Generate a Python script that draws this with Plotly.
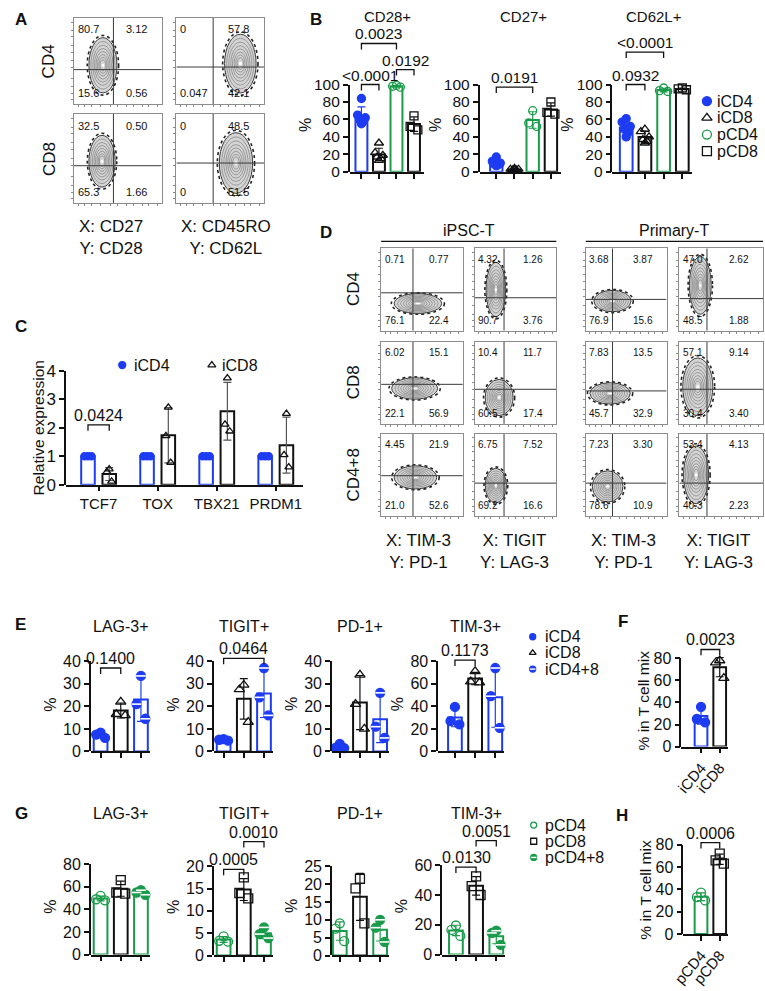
import numpy as np
import plotly.graph_objects as go

W, H = 765, 991
FONT = "Liberation Sans, Arial, Helvetica, sans-serif"
BLUE = "#1d3cf2"
GREEN = "#1a9b4b"
BLACK = "#111111"

# ======================= DATA =======================
# Panel A - flow quadrant percentages (UL, UR, LL, LR)
A_row_labels = ["CD4", "CD8"]
A_axis_labels = ["X: CD27<br>Y: CD28", "X: CD45RO<br>Y: CD62L"]
A_quadrants = [
    [["80.7", "3.12", "15.6", "0.56"], ["0", "57.8", "0.047", "42.1"]],
    [["32.5", "0.50", "65.3", "1.66"], ["0", "48.5", "0", "51.5"]],
]
A_gates = [[[0.45, 0.40], [0.42, 0.43]], [[0.45, 0.42], [0.42, 0.45]]]
A_blobs = [[[0.33, 0.45, 0.16, 0.32], [0.73, 0.47, 0.18, 0.34]],
           [[0.32, 0.47, 0.15, 0.29], [0.68, 0.45, 0.19, 0.34]]]

# Panel B
B_groups = ["iCD4", "iCD8", "pCD4", "pCD8"]
B_titles = ["CD28+", "CD27+", "CD62L+"]
B_CD28 = [[84, 65, 62, 60, 58, 55], [33, 22, 19, 17, 15, 13], [99, 98, 97], [64, 52, 48]]
B_CD27 = [[17, 12, 10, 9, 8, 7], [4, 3, 3, 2, 2, 2], [70, 56, 52], [80, 68, 66]]
B_CD62L = [[61, 57, 52, 49, 45, 40], [49, 46, 40, 37, 35, 33], [96, 93, 92], [96, 95, 94]]
B_pvals = [
    [(0, 1, 100, "<0.0001"), (2, 3, 117, "0.0192"), (0, 2, 147, "0.0023")],
    [(0, 2, 97, "0.0191")],
    [(0, 1, 100, "0.0932"), (0, 2, 137, "<0.0001")],
]

# Panel C
C_genes = ["TCF7", "TOX", "TBX21", "PRDM1"]
C_iCD4 = [[1, 1, 1], [1, 1, 1], [1, 1, 1], [1, 1, 1]]
C_iCD8 = [[0.55, 0.45, 0.12], [2.72, 1.72, 0.78], [3.75, 2.12, 1.88], [2.5, 1.05, 0.62]]
C_pval = (0, 2.1, "0.0424")

# Panel D
D_headers = ["iPSC-T", "Primary-T"]
D_row_labels = ["CD4", "CD8", "CD4+8"]
D_axis_labels = ["X: TIM-3<br>Y: PD-1", "X: TIGIT<br>Y: LAG-3",
                 "X: TIM-3<br>Y: PD-1", "X: TIGIT<br>Y: LAG-3"]
D_quadrants = [
    [["0.71", "0.77", "76.1", "22.4"], ["4.32", "1.26", "90.7", "3.76"],
     ["3.68", "3.87", "76.9", "15.6"], ["47.0", "2.62", "48.5", "1.88"]],
    [["6.02", "15.1", "22.1", "56.9"], ["10.4", "11.7", "60.5", "17.4"],
     ["7.83", "13.5", "45.7", "32.9"], ["57.1", "9.14", "30.4", "3.40"]],
    [["4.45", "21.9", "21.0", "52.6"], ["6.75", "7.52", "69.2", "16.6"],
     ["7.23", "3.30", "78.6", "10.9"], ["53.4", "4.13", "40.3", "2.23"]],
]
D_gate_x = [0.39, 0.36, 0.33, 0.33]
D_gate_y = [[0.46, 0.40, 0.38, 0.39], [0.48, 0.42, 0.40, 0.42], [0.49, 0.40, 0.40, 0.40]]
D_blobs = [
    [[0.45, 0.33, 0.29, 0.12], [0.26, 0.50, 0.12, 0.33], [0.33, 0.36, 0.23, 0.13], [0.25, 0.55, 0.13, 0.35]],
    [[0.41, 0.43, 0.28, 0.13], [0.30, 0.32, 0.17, 0.22], [0.30, 0.37, 0.25, 0.13], [0.22, 0.45, 0.18, 0.35]],
    [[0.42, 0.47, 0.26, 0.14], [0.26, 0.37, 0.13, 0.21], [0.27, 0.36, 0.19, 0.19], [0.20, 0.50, 0.15, 0.35]],
]

# Panel E / F
E_titles = ["LAG-3+", "TIGIT+", "PD-1+", "TIM-3+"]
E_groups = ["iCD4", "iCD8", "iCD4+8"]
E_LAG3 = [[8.3, 7.5, 6.0], [22, 16.5, 16], [33.5, 21, 14.5]]
E_TIGIT = [[5.5, 5.2, 4.8], [29.5, 27.5, 13], [37, 24, 16]]
E_PD1 = [[3.4, 1.6, 1.5], [34, 21, 10], [26, 11, 6]]
E_TIM3 = [[39.5, 27, 24], [71, 62, 61], [74, 49, 21]]
E_pvals = [[(0, 1, 37, "0.1400")], [(0, 2, 41.3, "0.0464")], [], [(0, 1, 81, "0.1173")]]
F_groups = ["iCD4", "iCD8"]
F_vals = [[36, 25, 22], [78, 76, 62]]
F_pvals = [(0, 1, 88, "0.0023")]

# Panel G / H
G_titles = ["LAG-3+", "TIGIT+", "PD-1+", "TIM-3+"]
G_groups = ["pCD4", "pCD8", "pCD4+8"]
G_LAG3 = [[52, 49, 48], [66, 55, 54], [57, 55, 53]]
G_TIGIT = [[4.3, 3.3, 3.1], [17.5, 14, 12.8], [6.3, 4.8, 3.9]]
G_PD1 = [[9, 7.5, 4], [21.5, 18.8, 9], [10, 7.8, 3.8]]
G_TIM3 = [[19.5, 16.5, 12.5], [52.5, 46, 40], [16, 14.5, 6.5]]
G_pvals = [[], [(0, 1, 19.3, "0.0005"), (1, 2, 25.5, "0.0010")], [],
           [(0, 1, 58.7, "0.0130"), (1, 2, 76.5, "0.0051")]]
H_groups = ["pCD4", "pCD8"]
H_vals = [[37, 33, 30], [72, 66, 63]]
H_pvals = [(0, 1, 81.8, "0.0006")]

# ======================= HELPERS =======================
traces, annotations, shapes, layout = [], [], [], {}
counter = [0]


def nid():
    counter[0] += 1
    return counter[0]


def akey(c, n):
    return f"{c}axis" if n == 1 else f"{c}axis{n}"


def aref(c, n):
    return c if n == 1 else f"{c}{n}"


def px(x):
    return x / W


def py(y):
    return 1 - y / H


def ann(x, y, text, size=15, xanchor="center", yanchor="middle", angle=0, color=BLACK):
    annotations.append(dict(x=px(x), y=py(y), xref="paper", yref="paper", text=text,
                            showarrow=False, xanchor=xanchor, yanchor=yanchor, textangle=angle,
                            font=dict(family=FONT, size=size, color=color)))


def letter(x, y, t):
    ann(x, y, f"<b>{t}</b>", size=17, xanchor="left")


def tickfont(sz):
    return dict(family=FONT, size=sz, color=BLACK)


def bar_panel(axis_px, c0_px, spacing, ncat, tail_px, ybot, ytt, tmax, ytop, tickvals,
              xtickvals=None, xticktext=None, xtickangle=0, tsize=16):
    xr = [-(c0_px - axis_px) / spacing, ncat - 1 + tail_px / spacing]
    x1 = c0_px + (ncat - 1) * spacing + tail_px
    ppu = (ybot - ytt) / tmax
    ymax = (ybot - ytop) / ppu
    n = nid()
    m = nid()
    if xtickvals is None:
        xtickvals = list(range(ncat))
    layout[akey("x", n)] = dict(domain=[px(axis_px), px(x1)], range=xr, anchor=aref("y", n),
                                showline=True, linecolor=BLACK, linewidth=1.5, ticks="outside",
                                ticklen=5, tickwidth=1.5, tickcolor=BLACK, tickvals=xtickvals,
                                ticktext=xticktext, showticklabels=xticktext is not None,
                                tickangle=xtickangle, tickfont=tickfont(15), showgrid=False,
                                zeroline=False, fixedrange=True)
    layout[akey("y", n)] = dict(domain=[py(ybot), py(ytop)], range=[0, ymax], anchor=aref("x", n),
                                visible=False, fixedrange=True)
    layout[akey("y", m)] = dict(domain=[py(ybot), py(ytt)], range=[0, tmax], anchor=aref("x", n),
                                showline=True, linecolor=BLACK, linewidth=1.5, ticks="outside",
                                ticklen=5, tickwidth=1.5, tickcolor=BLACK, tickvals=tickvals,
                                tickfont=tickfont(tsize), showgrid=False, zeroline=False,
                                fixedrange=True)
    traces.append(go.Scatter(x=[xr[0]], y=[0], xaxis=aref("x", n), yaxis=aref("y", m),
                             mode="markers", marker=dict(opacity=0), showlegend=False,
                             hoverinfo="skip"))
    return aref("x", n), aref("y", n), ppu


PATTERN = {3: [0.0, -1.0, 1.0], 6: [0.0, -1.0, 1.0, -0.5, 0.5, 0.0]}


def group(xa, ya, pos, pts, col, sym, bw, msize, spread, half=False, errcol=None, barline=2):
    pts = np.array(pts, dtype=float)
    mean = float(pts.mean())
    sd = float(pts.std(ddof=1))
    ec = errcol or col
    traces.append(go.Bar(x=[pos], y=[mean], width=bw, xaxis=xa, yaxis=ya,
                         marker=dict(color="white", line=dict(color=col, width=barline)),
                         error_y=dict(type="data", array=[sd], visible=sd > 0, color=ec,
                                      thickness=1.2, width=4),
                         showlegend=False, hoverinfo="skip"))
    xs = [pos + o * spread for o in PATTERN[len(pts)]]
    traces.append(go.Scatter(x=xs, y=pts, xaxis=xa, yaxis=ya, mode="markers", cliponaxis=False,
                             marker=dict(symbol=sym, size=msize, color=col,
                                         line=dict(color=col, width=1.3)),
                             showlegend=False, hoverinfo="skip"))
    if half:
        traces.append(go.Scatter(x=xs, y=pts, xaxis=xa, yaxis=ya, mode="markers", cliponaxis=False,
                                 marker=dict(symbol="line-ew", size=msize - 2, color="white",
                                             line=dict(color="white", width=1.6)),
                                 showlegend=False, hoverinfo="skip"))


def bracket(xa, ya, ppu, i, j, h, label, size=16):
    d = 6 / ppu
    traces.append(go.Scatter(x=[i, i, j, j], y=[h - d, h, h, h - d], xaxis=xa, yaxis=ya,
                             mode="lines", line=dict(color=BLACK, width=1.3),
                             showlegend=False, hoverinfo="skip"))
    annotations.append(dict(x=(i + j) / 2, y=h, xref=xa, yref=ya, text=label, showarrow=False,
                            xanchor="center", yanchor="bottom", yshift=-1,
                            font=dict(family=FONT, size=size, color=BLACK)))


def flow_plot(x0, x1, y0, y1, gx, gy, blob, quad, numsize):
    n = nid()
    tv = [0.05, 0.12, 0.2, 0.3, 0.42, 0.5, 0.6, 0.68, 0.78, 0.85, 0.95]
    common = dict(range=[0, 1], showline=True, mirror=True, linecolor="#8c8c8c", linewidth=1,
                  ticks="outside", ticklen=2, tickwidth=0.8, tickcolor="#888", tickvals=tv,
                  showticklabels=False, showgrid=False, zeroline=False, fixedrange=True)
    layout[akey("x", n)] = dict(domain=[px(x0), px(x1)], anchor=aref("y", n), **common)
    layout[akey("y", n)] = dict(domain=[py(y1), py(y0)], anchor=aref("x", n), **common)
    xa, ya = aref("x", n), aref("y", n)
    cx, cy, rx, ry = blob
    # sparse outlying events
    shapes.append(dict(type="circle", xref=xa, yref=ya, layer="below",
                       x0=cx - rx * 1.12, x1=cx + rx * 1.12, y0=cy - ry * 1.08, y1=cy + ry * 1.08,
                       line=dict(color="#222", width=1.6, dash="dot")))
    scales = [1.0, 0.86, 0.73, 0.61, 0.5, 0.39, 0.29, 0.2]
    for k, s in enumerate(scales):
        shapes.append(dict(type="circle", xref=xa, yref=ya, layer="below",
                           x0=cx - rx * s, x1=cx + rx * s, y0=cy - ry * s, y1=cy + ry * s,
                           fillcolor="#d4d4d4" if k == 0 else None,
                           line=dict(color="#3a3a3a" if k == 0 else "#707070",
                                     width=1.0 if k == 0 else 0.6)))
    shapes.append(dict(type="circle", xref=xa, yref=ya, layer="below",
                       x0=cx - rx * 0.1, x1=cx + rx * 0.1, y0=cy - ry * 0.06, y1=cy + ry * 0.06,
                       fillcolor="white", line=dict(width=0)))
    traces.append(go.Scatter(x=[gx, gx, None, 0, 1], y=[0, 1, None, gy, gy], xaxis=xa, yaxis=ya,
                             mode="lines", line=dict(color="#3a3a3a", width=1), showlegend=False,
                             hoverinfo="skip"))
    pos = [(0.02, 0.87, "left"), (0.71, 0.87, "center"), (0.02, 0.13, "left"), (0.71, 0.13, "center")]
    for (qx, qy, xan), t in zip(pos, quad):
        annotations.append(dict(x=qx, y=qy, xref=xa, yref=ya, text=t, showarrow=False,
                                xanchor=xan, yanchor="middle",
                                font=dict(family=FONT, size=numsize, color=BLACK)))


# ======================= PANEL A =======================
letter(1, 11, "A")
A_cols_px = [(63, 152), (167, 256)]
A_rows_px = [(9, 97), (107, 198)]
for r in range(2):
    for c in range(2):
        flow_plot(A_cols_px[c][0], A_cols_px[c][1], A_rows_px[r][0], A_rows_px[r][1],
                  A_gates[r][c][0], A_gates[r][c][1], A_blobs[r][c], A_quadrants[r][c], 11)
for r, lab in enumerate(A_row_labels):
    ann(38, (A_rows_px[r][0] + A_rows_px[r][1]) / 2, lab, size=17, angle=-90)
for c, lab in enumerate(A_axis_labels):
    ann(A_cols_px[c][0] + 3, 233, lab, size=17, xanchor="left")

# ======================= PANEL B =======================
letter(301, 11, "B")
B_geom = [(343, 355, 17.8), (475, 492, 18.5), (610, 624, 19.0)]
B_sets = [B_CD28, B_CD27, B_CD62L]
B_cols = [BLUE, BLACK, GREEN, BLACK]
B_syms = ["circle", "triangle-up-open", "circle-open", "square-open"]
for k in range(3):
    a, c0, s = B_geom[k]
    xa, ya, ppu = bar_panel(a, c0, s, 4, 10, 166, 77, 100, 14, [0, 20, 40, 60, 80, 100], tsize=15.5)
    for g in range(4):
        group(xa, ya, g, B_sets[k][g], B_cols[g], B_syms[g], 0.68, 8, 0.22)
    for (i, j, h, lab) in B_pvals[k]:
        bracket(xa, ya, ppu, i, j, h, lab, size=15.5)
    ann(c0 + 1.5 * s, 8, B_titles[k], size=15)
    ann(a - 45, 118, "%", size=16, angle=-90)

# ======================= PANEL C =======================
letter(1, 324, "C")
xa, ya, ppu = bar_panel(55, 88, 60, 4, 28, 485, 369, 4, 358, [0, 1, 2, 3, 4],
                        xtickvals=[0, 1, 2, 3], xticktext=C_genes, tsize=17)
for g in range(4):
    group(xa, ya, g - 0.18, C_iCD4[g], BLUE, "circle", 0.23, 7, 0.06)
    group(xa, ya, g + 0.18, C_iCD8[g], BLACK, "triangle-up-open", 0.23, 7, 0.04, errcol="#555555")
bracket(xa, ya, ppu, C_pval[0] - 0.18, C_pval[0] + 0.18, C_pval[1], C_pval[2])
ann(27, 427, "Relative expression", size=15.5, angle=-90)

# ======================= PANEL D =======================
letter(311, 228, "D")
D_cols_px = [(375, 458), (470, 553), (583, 665), (678, 763)]
D_rows_px = [(244, 328), (339, 423), (433, 517)]
for r in range(3):
    for c in range(4):
        flow_plot(D_cols_px[c][0], D_cols_px[c][1], D_rows_px[r][0], D_rows_px[r][1],
                  D_gate_x[c], D_gate_y[r][c], D_blobs[r][c], D_quadrants[r][c], 10)
for r, lab in enumerate(D_row_labels):
    ann(347, (D_rows_px[r][0] + D_rows_px[r][1]) / 2, lab, size=17, angle=-90)
for c, lab in enumerate(D_axis_labels):
    ann(D_cols_px[c][0] + 3, 553, lab, size=17, xanchor="left")
for h, lab in enumerate(D_headers):
    xl = D_cols_px[2 * h][0]
    xr_ = D_cols_px[2 * h + 1][1]
    ann((xl + xr_) / 2, 226, lab, size=16)
    shapes.append(dict(type="line", xref="paper", yref="paper", x0=px(xl), x1=px(xr_),
                       y0=py(237), y1=py(237), line=dict(color=BLACK, width=1.2)))

# ======================= PANEL E =======================
letter(1, 628, "E")
E_geom = [(80, 90), (205, 215), (325, 333), (433, 450)]
E_sets = [E_LAG3, E_TIGIT, E_PD1, E_TIM3]
E_tmax = [40, 40, 40, 80]
E_cols = [BLUE, BLACK, BLUE]
E_syms = ["circle", "triangle-up-open", "circle"]
for k in range(4):
    a, c0 = E_geom[k]
    tm = E_tmax[k]
    tv = list(range(0, tm + 1, tm // 4))
    xa, ya, ppu = bar_panel(a, c0, 20.5, 3, 9, 757, 665, tm, 642, tv)
    for g in range(3):
        group(xa, ya, g, E_sets[k][g], E_cols[g], E_syms[g], 0.68, 9, 0.22, half=(g == 2))
    for (i, j, h, lab) in E_pvals[k]:
        bracket(xa, ya, ppu, i, j, h, lab)
    ann(c0 + 20.5, 630, E_titles[k], size=16)
    ann(a - 41, 709, "%", size=16, angle=-90)

# F
letter(614, 624, "F")
xa, ya, ppu = bar_panel(680, 700, 19, 2, 8, 752, 662, 80, 645, [0, 20, 40, 60, 80],
                        xticktext=F_groups, xtickangle=-50)
group(xa, ya, 0, F_vals[0], BLUE, "circle", 0.68, 9, 0.22)
group(xa, ya, 1, F_vals[1], BLACK, "triangle-up-open", 0.68, 9, 0.22)
for (i, j, h, lab) in F_pvals:
    bracket(xa, ya, ppu, i, j, h, lab)
ann(642, 705, "% in T cell mix", size=15.5, angle=-90)

# ======================= PANEL G =======================
letter(1, 820, "G")
G_geom = [(80, 90, 964, 872, 80), (205, 215, 965, 874, 20), (325, 333, 965, 874, 25),
          (437, 451, 964, 873, 60)]
G_sets = [G_LAG3, G_TIGIT, G_PD1, G_TIM3]
G_cols = [GREEN, BLACK, GREEN]
G_syms = ["circle-open", "square-open", "circle"]
for k in range(4):
    a, c0, yb, yt, tm = G_geom[k]
    step = {80: 20, 20: 5, 25: 5, 60: 20}[tm]
    tv = list(range(0, tm + 1, step))
    xa, ya, ppu = bar_panel(a, c0, 20.5, 3, 9, yb, yt, tm, 826, tv)
    for g in range(3):
        group(xa, ya, g, G_sets[k][g], G_cols[g], G_syms[g], 0.68, 9, 0.22, half=(g == 2))
    for (i, j, h, lab) in G_pvals[k]:
        bracket(xa, ya, ppu, i, j, h, lab)
    ann(c0 + 20.5, 820, G_titles[k], size=16)
    ann(a - 41, 915, "%", size=16, angle=-90)

# H
letter(612, 822, "H")
xa, ya, ppu = bar_panel(682, 700, 19, 2, 8, 943, 852, 80, 838, [0, 20, 40, 60, 80],
                        xticktext=H_groups, xtickangle=-50)
group(xa, ya, 0, H_vals[0], GREEN, "circle-open", 0.68, 9, 0.22)
group(xa, ya, 1, H_vals[1], BLACK, "square-open", 0.68, 9, 0.22)
for (i, j, h, lab) in H_pvals:
    bracket(xa, ya, ppu, i, j, h, lab)
ann(644, 898, "% in T cell mix", size=15.5, angle=-90)

# ======================= LEGENDS (overlay in pixel space) =======================
ov = nid()
layout[akey("x", ov)] = dict(domain=[0, 1], range=[0, W], anchor=aref("y", ov), visible=False,
                             fixedrange=True)
layout[akey("y", ov)] = dict(domain=[0, 1], range=[H, 0], anchor=aref("x", ov), visible=False,
                             fixedrange=True)
OX, OY = aref("x", ov), aref("y", ov)


def leg(x, y, sym, col, size, text, tx, half=False, tsize=16):
    traces.append(go.Scatter(x=[x], y=[y], xaxis=OX, yaxis=OY, mode="markers", cliponaxis=False,
                             marker=dict(symbol=sym, size=size, color=col,
                                         line=dict(color=col, width=1.3)),
                             showlegend=False, hoverinfo="skip"))
    if half:
        traces.append(go.Scatter(x=[x], y=[y], xaxis=OX, yaxis=OY, mode="markers",
                                 marker=dict(symbol="line-ew", size=size - 2, color="white",
                                             line=dict(color="white", width=1.4)),
                                 showlegend=False, hoverinfo="skip"))
    ann(tx, y, text, size=tsize, xanchor="left")


for k, (sym, col) in enumerate(zip(B_syms, B_cols)):
    leg(706, 94 + 17 * k, sym, col, 9, B_groups[k], 714)
leg(112, 363, "circle", BLUE, 7, "iCD4", 122)
leg(203, 363, "triangle-up-open", BLACK, 7, "iCD8", 211)
for k in range(3):
    leg(529, 640 + 16.5 * k, E_syms[k], E_cols[k], 6, E_groups[k], 539, half=(k == 2))
for k in range(3):
    leg(530, 832 + 16.5 * k, G_syms[k], G_cols[k], 6, G_groups[k], 539, half=(k == 2))

# ======================= FIGURE =======================
fig = go.Figure()
fig.add_traces(traces)
layout.update(dict(width=W, height=H, autosize=False, margin=dict(l=0, r=0, t=0, b=0),
                   paper_bgcolor="white", plot_bgcolor="rgba(0,0,0,0)", showlegend=False,
                   barmode="overlay", annotations=annotations, shapes=shapes,
                   font=dict(family=FONT, color=BLACK), hovermode=False))
fig.update_layout(layout)
fig.write_html("out.html")
